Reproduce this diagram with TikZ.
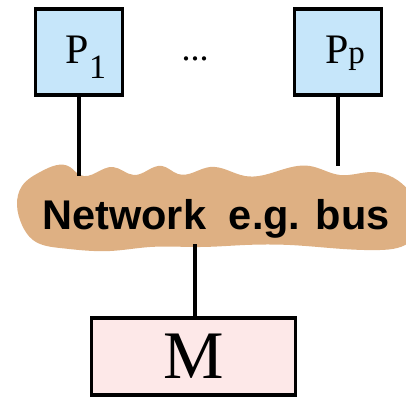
\documentclass[tikz,border=0pt]{standalone}
\usepackage{fontspec}
\setmainfont{Liberation Serif}
\newfontfamily\netfont{Liberation Sans}
\usetikzlibrary{hobby,positioning}
\definecolor{procblue}{RGB}{198,230,250}
\definecolor{mempink}{RGB}{253,232,232}
\definecolor{bustan}{RGB}{222,176,131}
\tikzset{
  procbox/.style={draw,line width=3.4pt,fill=procblue,minimum width=87pt,
    minimum height=86pt,inner sep=0pt,text height=32pt,text depth=10pt,
    font=\fontsize{42}{42}\selectfont},
  membox/.style={draw,line width=3.4pt,fill=mempink,minimum width=204pt,
    minimum height=77pt,inner sep=0pt,font=\fontsize{68}{68}\selectfont},
  wire/.style={line width=3.4pt}
}

\begin{document}
\begin{tikzpicture}[x=1pt,y=-1pt]
    \useasboundingbox (0,0) rectangle (406,399);
    % the bus blob
    \fill[bustan,use Hobby shortcut,closed=true]
      (17,205) .. (22,186) .. (42,171) .. (70,167) .. (80,175) .. (113,167)
      .. (134,175) .. (162,166) .. (178,174) .. (210,167) .. (245,176)
      .. (310,166) .. (340,175) .. (372,172) .. (410,192) .. (412,240)
      .. (380,250) .. (330,248) .. (290,245) .. (245,245) .. (200,247)
      .. (150,247) .. (110,251) .. (60,248) .. (33,240) .. (22,225);
    \node[font=\netfont\bfseries\fontsize{41.5}{41.5}\selectfont,anchor=base]
      (net) at (216,229) {Network\hspace{0.55em}e.g. bus};
    \node[procbox] (p1) at (79,52)
      {\hspace{14pt}P\raisebox{-15pt}{\fontsize{34}{34}\selectfont 1}};
    \node[procbox] (pp) at (338,52)
      {\hspace{14pt}P{\fontsize{33}{33}\selectfont p}};
    \node[font=\fontsize{36}{36}\selectfont,anchor=base] (dots) at (195,60) {...};
    \node[membox] (m) at (193.5,356.5) {M};
    \coordinate (t1) at (p1.south |- 0,176);
    \coordinate (tp) at (pp.south |- 0,166);
    \coordinate (tm) at (m.north -| 195,0);
    \coordinate (bm) at (195,244);
    \draw[wire] (p1.south) -- (t1);
    \draw[wire] (pp.south) -- (tp);
    \draw[wire] (bm) -- (tm);
\end{tikzpicture}
\end{document}
